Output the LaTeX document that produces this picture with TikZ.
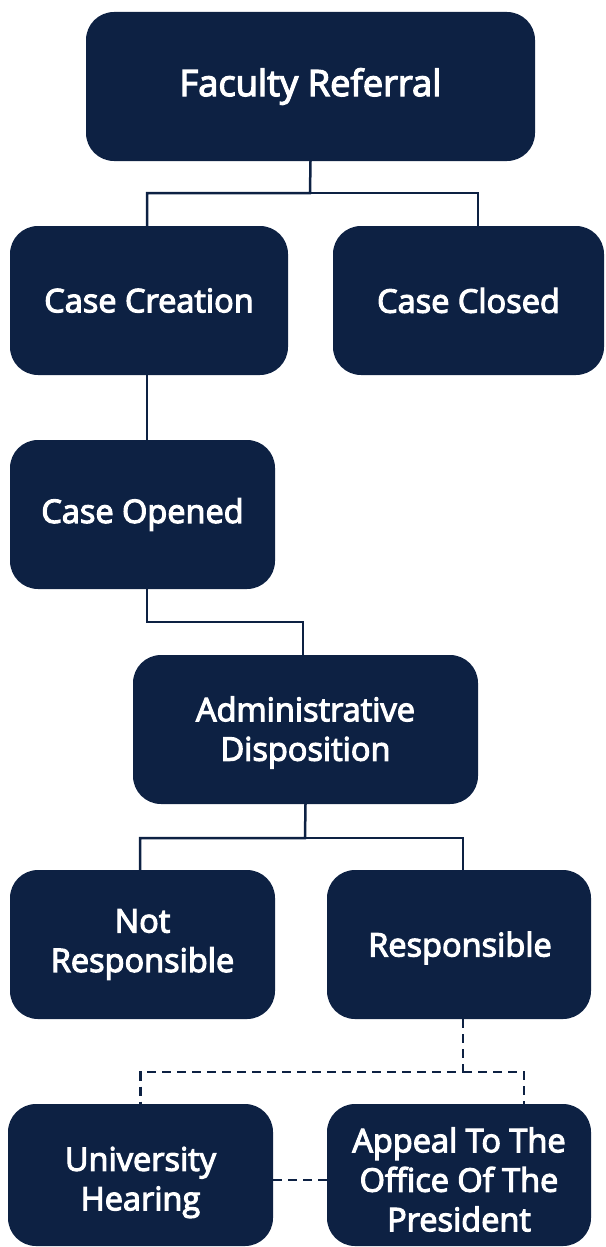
\documentclass[tikz,border=0pt]{standalone}
\usepackage{fontspec}
\setmainfont{Open Sans}[FakeBold=3.5]
\definecolor{navy}{HTML}{0D2143}
\tikzset{
  box/.style={rectangle, rounded corners=28pt, fill=navy, draw=none, text=white,
    align=center, font=\fontsize{32.5}{39.5}\selectfont, inner sep=0pt},
  conn/.style={draw=navy, line width=2.5pt},
  dconn/.style={draw=navy, line width=2.5pt, dash pattern=on 9pt off 6pt}
}
\begin{document}
\begin{tikzpicture}[x=1pt,y=-1pt]
\useasboundingbox (0,0) rectangle (605,1247);
\node[box, minimum width=449pt, minimum height=149pt, font=\fontsize{36.3}{40}\selectfont] (fr) at (310.5,86.5) {Faculty Referral};
\node[box, minimum width=278pt, minimum height=149pt] (cc) at (149,300.5) {Case Creation};
\node[box, minimum width=271pt, minimum height=149pt] (cl) at (468.5,300.5) {Case Closed};
\node[box, minimum width=265pt, minimum height=149pt] (co) at (142.5,514.5) {Case Opened};
\node[box, minimum width=345pt, minimum height=149pt] (ad) at (305.5,729.5) {};
\node[box, fill=none] (adt) at (305.5,732.5) {Administrative\\Disposition};
\node[box, minimum width=265pt, minimum height=149pt] (nr) at (142.5,944.5) {Not\\Responsible};
\node[box, minimum width=264pt, minimum height=149pt] (rs) at (459,944.5) {};
\node[box, fill=none] (rst) at (460,948) {Responsible};
\node[box, minimum width=265pt, minimum height=142pt] (uh) at (140.5,1175) {};
\node[box, minimum width=264pt, minimum height=142pt] (ap) at (459,1175) {};
\node[box, fill=none] (uht) at (140.5,1182.5) {University\\Hearing};
\node[box, fill=none] (apt) at (459,1179.5) {Appeal To The\\Office Of The\\President};

\coordinate (j1) at (310,193);
\draw[conn] (fr.south) -- (j1) -| ([xshift=-2pt]cc.north);
\draw[conn] (j1) -| ([xshift=9.5pt]cl.north);
\draw[conn] ([xshift=-2pt]cc.south) -- ([xshift=-2pt]cc.south |- co.north);
\coordinate (j2) at (147,622);
\draw[conn] ([xshift=4.5pt]co.south) -- (j2) -| ([xshift=-2.5pt]ad.north);
\coordinate (j3) at (305,838);
\draw[conn] (ad.south) -- (j3) -| ([xshift=-2.5pt]nr.north);
\draw[conn] (j3) -| ([xshift=4pt]rs.north);
\coordinate (j4) at (463,1072);
\draw[dconn] ([xshift=4pt]rs.south) -- (j4) -| (uh.north);
\draw[dconn] (j4) -| ([xshift=65pt]ap.north);
\draw[dconn] ([yshift=-5pt]uh.east) -- ([yshift=-5pt]ap.west);
\end{tikzpicture}
\end{document}
